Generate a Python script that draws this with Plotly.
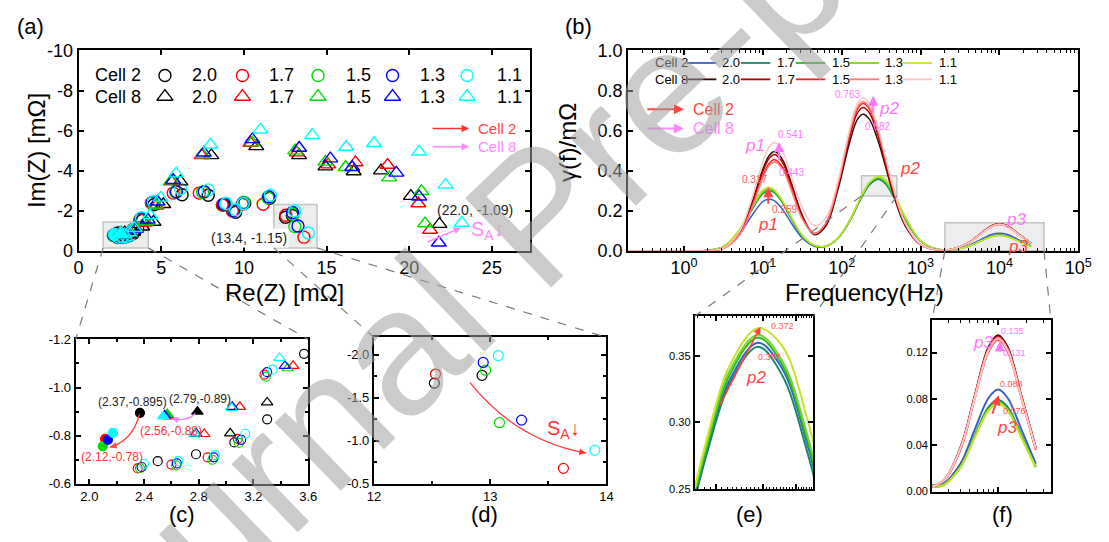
import plotly.graph_objects as go

W, H = 1109, 542
FONT = "Liberation Sans, Arial, sans-serif"


def px(x):
    return x / W


def py(y):
    return 1 - y / H


# ---------------- Nyquist data (Re, Im in mOhm) ----------------
soc_labels = ["2.0", "1.7", "1.5", "1.3", "1.1"]
soc_colors = ["#000000", "#ff0000", "#00dd00", "#0000ff", "#00ffff"]

c2_re_20 = [2.37, 2.50, 2.78, 3.06, 3.30, 3.57, 3.86, 4.55, 6.26, 7.84, 8.75, 9.50, 10.05, 11.55, 12.52, 12.93]
c2_im_20 = [-0.895, -0.694, -0.723, -0.772, -0.868, -1.14, -1.52, -2.30, -2.80, -2.77, -2.28, -1.92, -2.38, -2.62, -1.67, -1.76]
c2_re_17 = [2.115, 2.354, 2.60, 2.865, 3.085, 3.28, 3.70, 4.40, 5.72, 7.30, 8.69, 9.30, 9.90, 11.16, 12.53, 13.63]
c2_im_17 = [-0.787, -0.664, -0.68, -0.71, -0.787, -1.054, -1.55, -2.38, -2.88, -2.88, -2.29, -1.98, -2.32, -2.32, -1.775, -0.68]
c2_re_15 = [2.098, 2.37, 2.635, 2.90, 3.094, 3.29, 3.75, 4.45, 5.85, 7.50, 8.85, 9.40, 10.0, 11.45, 12.96, 13.08]
c2_im_15 = [-0.756, -0.665, -0.677, -0.70, -0.77, -1.045, -1.58, -2.40, -2.95, -2.92, -2.32, -2.0, -2.42, -2.65, -1.82, -1.21]
c2_re_13 = [2.136, 2.382, 2.64, 2.91, 3.11, 3.30, 3.77, 4.47, 5.92, 7.60, 8.80, 9.38, 9.95, 11.50, 12.94, 13.27]
c2_im_13 = [-0.783, -0.67, -0.685, -0.71, -0.783, -1.064, -1.60, -2.42, -2.95, -2.95, -2.33, -2.0, -2.38, -2.70, -1.91, -1.24]
c2_re_11 = [2.172, 2.40, 2.65, 2.917, 3.14, 3.34, 3.80, 4.52, 6.16, 7.84, 8.93, 9.50, 9.96, 11.60, 13.07, 13.90]
c2_im_11 = [-0.812, -0.683, -0.694, -0.719, -0.808, -1.074, -1.65, -2.45, -3.09, -3.04, -2.36, -2.05, -2.36, -2.77, -1.99, -0.89]

c8_re_20 = [2.79, 3.03, 3.30, 3.85, 4.53, 5.12, 6.16, 8.03, 10.75, 13.34, 14.93, 16.64, 18.29, 20.10, 21.83]
c8_im_20 = [-0.90, -0.81, -0.938, -1.20, -1.44, -2.32, -3.45, -4.76, -5.21, -4.76, -4.20, -3.96, -4.00, -2.73, -1.33]
c8_re_17 = [2.58, 2.84, 3.10, 3.49, 4.00, 4.70, 5.60, 7.44, 10.40, 13.20, 15.10, 16.75, 18.69, 20.55, 21.26]
c8_im_17 = [-0.88, -0.807, -0.92, -1.09, -1.40, -2.25, -3.45, -4.76, -5.38, -4.90, -4.30, -4.41, -4.28, -2.36, -1.04]
c8_re_15 = [2.57, 2.77, 3.04, 3.45, 4.05, 4.65, 5.62, 7.50, 10.50, 13.10, 14.93, 16.15, 18.79, 20.74, 20.96]
c8_im_15 = [-0.89, -0.807, -0.918, -1.08, -1.45, -2.30, -3.50, -4.80, -5.40, -5.00, -4.44, -4.17, -3.65, -2.97, -1.36]
c8_re_13 = [2.55, 2.78, 3.045, 3.43, 4.18, 4.77, 5.72, 7.58, 10.51, 13.34, 15.23, 16.55, 19.22, 20.60, 21.79]
c8_im_13 = [-0.885, -0.81, -0.92, -1.09, -1.55, -2.45, -3.52, -4.89, -5.56, -5.13, -4.60, -4.17, -3.89, -2.70, -0.40]
c8_re_11 = [2.54, 2.77, 3.04, 3.39, 4.33, 4.97, 5.90, 7.98, 11.00, 14.13, 16.19, 17.87, 20.60, 22.20, 23.18]
c8_im_11 = [-0.88, -0.81, -0.915, -1.123, -1.76, -2.64, -3.85, -5.29, -6.04, -5.77, -5.18, -5.37, -4.94, -3.29, -1.39]

cell2_re = [c2_re_20, c2_re_17, c2_re_15, c2_re_13, c2_re_11]
cell2_im = [c2_im_20, c2_im_17, c2_im_15, c2_im_13, c2_im_11]
cell8_re = [c8_re_20, c8_re_17, c8_re_15, c8_re_13, c8_re_11]
cell8_im = [c8_im_20, c8_im_17, c8_im_15, c8_im_13, c8_im_11]

# ---------------- DRT data ----------------
freq_hz = [0.19, 1.0, 2.0, 3.16, 5.01, 7.08, 10.0, 12.0, 14.1, 17.8, 22.4, 31.6, 44.7, 63.1, 89.1,
           126, 158, 186, 224, 288, 355, 447, 631, 1000, 1585, 2512, 3981, 5623, 7943, 10000,
           12589, 17783, 25119]

g_c2_20 = [0, 0, 0.002, 0.018, 0.082, 0.170, 0.246, 0.259, 0.249, 0.206, 0.145, 0.064, 0.023, 0.022, 0.061,
           0.148, 0.226, 0.281, 0.331, 0.360, 0.341, 0.281, 0.163, 0.049, 0.009, 0.006, 0.024, 0.053, 0.081, 0.088,
           0.081, 0.053, 0.024]
g_c2_17 = [0, 0, 0.002, 0.020, 0.095, 0.197, 0.285, 0.300, 0.289, 0.238, 0.167, 0.074, 0.026, 0.023, 0.061,
           0.147, 0.225, 0.279, 0.328, 0.357, 0.336, 0.275, 0.158, 0.048, 0.009, 0.005, 0.022, 0.048, 0.073, 0.079,
           0.073, 0.048, 0.022]
g_c2_15 = [0, 0, 0.002, 0.021, 0.096, 0.200, 0.290, 0.305, 0.293, 0.242, 0.170, 0.075, 0.027, 0.023, 0.062,
           0.150, 0.229, 0.284, 0.335, 0.364, 0.344, 0.284, 0.165, 0.049, 0.009, 0.005, 0.021, 0.047, 0.071, 0.077,
           0.071, 0.047, 0.021]
g_c2_13 = [0, 0, 0.002, 0.021, 0.098, 0.203, 0.295, 0.310, 0.298, 0.246, 0.173, 0.076, 0.027, 0.023, 0.062,
           0.151, 0.231, 0.287, 0.338, 0.366, 0.347, 0.288, 0.167, 0.049, 0.009, 0.005, 0.021, 0.047, 0.071, 0.077,
           0.071, 0.047, 0.021]
g_c2_11 = [0, 0, 0.002, 0.022, 0.105, 0.215, 0.305, 0.317, 0.303, 0.250, 0.177, 0.078, 0.028, 0.024, 0.063,
           0.152, 0.233, 0.290, 0.342, 0.371, 0.358, 0.300, 0.175, 0.052, 0.009, 0.005, 0.021, 0.046, 0.070, 0.076,
           0.070, 0.046, 0.021]

g_c8_20 = [0, 0, 0.001, 0.013, 0.085, 0.226, 0.407, 0.474, 0.495, 0.454, 0.350, 0.177, 0.080, 0.125, 0.303,
           0.542, 0.656, 0.682, 0.657, 0.550, 0.428, 0.288, 0.128, 0.029, 0.005, 0.008, 0.038, 0.082, 0.125, 0.135,
           0.125, 0.082, 0.038]
g_c8_17 = [0, 0, 0.001, 0.012, 0.083, 0.219, 0.395, 0.460, 0.480, 0.440, 0.340, 0.172, 0.085, 0.133, 0.317,
           0.568, 0.688, 0.715, 0.689, 0.577, 0.448, 0.302, 0.134, 0.030, 0.005, 0.008, 0.037, 0.081, 0.124, 0.134,
           0.124, 0.081, 0.037]
g_c8_15 = [0, 0, 0.001, 0.012, 0.078, 0.208, 0.374, 0.436, 0.455, 0.417, 0.322, 0.163, 0.086, 0.137, 0.326,
           0.584, 0.707, 0.735, 0.708, 0.593, 0.461, 0.311, 0.138, 0.031, 0.005, 0.008, 0.036, 0.080, 0.121, 0.131,
           0.121, 0.080, 0.036]
g_c8_13 = [0, 0, 0.001, 0.011, 0.076, 0.202, 0.364, 0.424, 0.443, 0.406, 0.314, 0.159, 0.085, 0.139, 0.330,
           0.592, 0.717, 0.745, 0.717, 0.601, 0.467, 0.315, 0.140, 0.031, 0.005, 0.008, 0.037, 0.081, 0.123, 0.133,
           0.123, 0.081, 0.037]
g_c8_11 = [0, 0, 0.001, 0.014, 0.093, 0.247, 0.445, 0.518, 0.541, 0.496, 0.383, 0.215, 0.125, 0.165, 0.345,
           0.606, 0.734, 0.763, 0.735, 0.616, 0.478, 0.323, 0.143, 0.032, 0.005, 0.008, 0.037, 0.080, 0.122, 0.132,
           0.122, 0.080, 0.037]

drt_c2 = [g_c2_20, g_c2_17, g_c2_15, g_c2_13, g_c2_11]
drt_c8 = [g_c8_20, g_c8_17, g_c8_15, g_c8_13, g_c8_11]
drt_c2_colors = ["#3a5fcd", "#17866a", "#22bb22", "#77d42a", "#c6e22c"]
drt_c8_colors = ["#3c0505", "#b00000", "#ff1c1c", "#ff7a7a", "#ffc4c4"]

# ---------------- figure ----------------
fig = go.Figure()

# Nyquist traces in (a), (c), (d)
panels = [("x", "y", 12, 13, 1.4), ("x3", "y3", 9, 10, 1.2), ("x4", "y4", 10, 11, 1.2)]
for xa, ya, cs, ts, lw in panels:
    for i in range(5):
        n = len(cell2_re[i])
        fig.add_trace(go.Scatter(
            x=cell2_re[i], y=cell2_im[i], mode="markers", xaxis=xa, yaxis=ya, showlegend=False,
            marker=dict(symbol=["circle"] + ["circle-open"] * (n - 1), size=cs, color=soc_colors[i],
                        line=dict(width=lw, color=soc_colors[i]))))
    if xa == "x4":
        continue
    for i in range(5):
        n = len(cell8_re[i])
        fig.add_trace(go.Scatter(
            x=cell8_re[i], y=cell8_im[i], mode="markers", xaxis=xa, yaxis=ya, showlegend=False,
            marker=dict(symbol=["triangle-up"] + ["triangle-up-open"] * (n - 1), size=ts,
                        color=soc_colors[i], line=dict(width=lw, color=soc_colors[i]))))


# legend markers for (a) (placed via the axis mapping)
def a_x(p):
    return (p - 73) / 460 * 27.3


def a_y(p):
    return -(250 - p) / 208 * 10


leg_mx = [161, 240, 317, 393, 469]
for i in range(5):
    fig.add_trace(go.Scatter(x=[a_x(leg_mx[i])], y=[a_y(68)], mode="markers", xaxis="x", yaxis="y",
                             showlegend=False,
                             marker=dict(symbol="circle-open", size=12, color=soc_colors[i],
                                         line=dict(width=1.4, color=soc_colors[i]))))
    fig.add_trace(go.Scatter(x=[a_x(leg_mx[i])], y=[a_y(90)], mode="markers", xaxis="x", yaxis="y",
                             showlegend=False,
                             marker=dict(symbol="triangle-up-open", size=14, color=soc_colors[i],
                                         line=dict(width=1.4, color=soc_colors[i]))))

# DRT traces in (b), (e), (f)  -- (e) shows Cell 2 only
for xa, ya, lw, with_c8 in [("x2", "y2", 1.5, True), ("x5", "y5", 2.0, False), ("x6", "y6", 2.0, True)]:
    for i in range(5):
        fig.add_trace(go.Scatter(x=freq_hz, y=drt_c2[i], mode="lines", xaxis=xa, yaxis=ya, showlegend=False,
                                 line=dict(color=drt_c2_colors[i], width=lw, shape="spline", smoothing=1.0)))
    if not with_c8:
        continue
    for i in range(5):
        fig.add_trace(go.Scatter(x=freq_hz, y=drt_c8[i], mode="lines", xaxis=xa, yaxis=ya, showlegend=False,
                                 line=dict(color=drt_c8_colors[i], width=lw, shape="spline", smoothing=1.0)))

base_ax = dict(showline=True, linecolor="black", linewidth=2, mirror="ticks", ticks="inside",
               ticklen=5, tickwidth=1.5, tickcolor="black", showgrid=False, zeroline=False,
               fixedrange=True, tickfont=dict(family=FONT, color="black"))


def ax(**kw):
    d = dict(base_ax)
    d.update(kw)
    return d


dec_minor = [m * 10 ** e for e in range(-1, 5) for m in range(2, 10)]

fig.update_layout(
    width=W, height=H, margin=dict(l=0, r=0, t=0, b=0), autosize=False,
    paper_bgcolor="white", plot_bgcolor="rgba(0,0,0,0)", showlegend=False,
    font=dict(family=FONT, color="black"),
    xaxis=ax(domain=[px(73), px(533)], anchor="y", range=[0, 27.3], tickvals=[0, 5, 10, 15, 20, 25],
             tickfont=dict(family=FONT, size=18)),
    yaxis=ax(domain=[py(250), py(42)], anchor="x", range=[0, -10],
             tickvals=[0, -2, -4, -6, -8, -10], ticktext=["0", "-2", "-4", "-6", "-8", "-10"],
             tickfont=dict(family=FONT, size=18)),
    xaxis2=ax(domain=[px(633), px(1092)], anchor="y2", type="log", range=[-0.71, 5.0],
              tickvals=[1, 10, 100, 1000, 10000, 100000],
              ticktext=["10<sup>0</sup>", "10<sup>1</sup>", "10<sup>2</sup>", "10<sup>3</sup>",
                        "10<sup>4</sup>", "10<sup>5</sup>"],
              tickfont=dict(family=FONT, size=18),
              minor=dict(tickvals=dec_minor, ticks="inside", ticklen=3, tickwidth=1, tickcolor="black")),
    yaxis2=ax(domain=[py(250), py(42)], anchor="x2", range=[0, 1.0],
              tickvals=[0, 0.2, 0.4, 0.6, 0.8, 1.0], ticktext=["0.0", "0.2", "0.4", "0.6", "0.8", "1.0"],
              tickfont=dict(family=FONT, size=18)),
    xaxis3=ax(domain=[px(70), px(307)], anchor="y3", range=[1.9, 3.6], tickvals=[2.0, 2.4, 2.8, 3.2, 3.6],
              ticktext=["2.0", "2.4", "2.8", "3.2", "3.6"], tickfont=dict(family=FONT, size=13),
              minor=dict(tickvals=[2.2, 2.6, 3.0, 3.4], ticks="inside", ticklen=3, tickcolor="black")),
    yaxis3=ax(domain=[py(492), py(342)], anchor="x3", range=[-0.6, -1.2], tickvals=[-0.6, -0.8, -1.0, -1.2],
              ticktext=["-0.6", "-0.8", "-1.0", "-1.2"], tickfont=dict(family=FONT, size=13),
              minor=dict(tickvals=[-0.7, -0.9, -1.1], ticks="inside", ticklen=3, tickcolor="black")),
    xaxis4=ax(domain=[px(374), px(611)], anchor="y4", range=[12, 14], tickvals=[12, 13, 14],
              tickfont=dict(family=FONT, size=13),
              minor=dict(tickvals=[12.5, 13.5], ticks="inside", ticklen=3, tickcolor="black")),
    yaxis4=ax(domain=[py(492), py(340)], anchor="x4", range=[-0.5, -2.2], tickvals=[-0.5, -1.0, -1.5, -2.0],
              ticktext=["-0.5", "-1.0", "-1.5", "-2.0"], tickfont=dict(family=FONT, size=13),
              minor=dict(tickvals=[-0.75, -1.25, -1.75], ticks="inside", ticklen=3, tickcolor="black")),
    xaxis5=ax(domain=[px(701), px(822)], anchor="y5", type="log", range=[2.22, 2.67],
              tickvals=[200, 300, 400], showticklabels=False,
              minor=dict(tickvals=[170, 180, 190, 210, 220, 230, 240, 250, 260, 270, 280, 290, 310, 320, 330,
                                   340, 350, 360, 370, 380, 390, 410, 420, 430, 440, 450, 460],
                         ticks="inside", ticklen=2, tickwidth=1, tickcolor="black")),
    yaxis5=ax(domain=[py(497), py(318)], anchor="x5", range=[0.25, 0.38], tickvals=[0.25, 0.30, 0.35],
              ticktext=["0.25", "0.30", "0.35"], tickfont=dict(family=FONT, size=11)),
    xaxis6=ax(domain=[px(943), px(1064)], anchor="y6", type="log", range=[3.3, 4.56],
              tickvals=[10000], showticklabels=False,
              minor=dict(tickvals=[3000, 4000, 5000, 6000, 7000, 8000, 9000, 20000, 30000],
                         ticks="inside", ticklen=3, tickwidth=1, tickcolor="black")),
    yaxis6=ax(domain=[py(500), py(322)], anchor="x6", range=[0, 0.148], tickvals=[0, 0.04, 0.08, 0.12],
              ticktext=["0.00", "0.04", "0.08", "0.12"], tickfont=dict(family=FONT, size=11)),
)

shapes = []
annos = []


def rect(x0, y0, x1, y1):
    shapes.append(dict(type="rect", xref="paper", yref="paper", x0=px(x0), x1=px(x1), y0=py(y1), y1=py(y0),
                       fillcolor="rgba(215,215,215,0.45)", line=dict(color="#c4c4c4", width=1.5), layer="below"))


def dline(x0, y0, x1, y1, color="#7a7a7a", width=1.2, dash="dash"):
    shapes.append(dict(type="line", xref="paper", yref="paper", x0=px(x0), y0=py(y0), x1=px(x1), y1=py(y1),
                       line=dict(color=color, width=width, dash=dash)))


def text(x, y, s, size, color="black", xanchor="center", yanchor="middle", angle=0, **kw):
    annos.append(dict(x=px(x), y=py(y), xref="paper", yref="paper", text=s, showarrow=False,
                      xanchor=xanchor, yanchor=yanchor, textangle=angle,
                      font=dict(family=FONT, size=size, color=color), **kw))


def arrow(x0, y0, x1, y1, color, width=1.5, head=2, hs=1.0):
    annos.append(dict(x=px(x1), y=py(y1), xref="paper", yref="paper", ax=x0 - x1, ay=y0 - y1,
                      axref="pixel", ayref="pixel", text="", showarrow=True, arrowhead=head,
                      arrowsize=hs, arrowwidth=width, arrowcolor=color))


def curve(p0, c, p2, color, width=1.5):
    path = "M {} {} Q {} {} {} {}".format(px(p0[0]), py(p0[1]), px(c[0]), py(c[1]), px(p2[0]), py(p2[1]))
    shapes.append(dict(type="path", xref="paper", yref="paper", path=path, line=dict(color=color, width=width)))
    dx, dy = p2[0] - c[0], p2[1] - c[1]
    L = (dx * dx + dy * dy) ** 0.5
    arrow(p2[0] - 6 * dx / L, p2[1] - 6 * dy / L, p2[0], p2[1], color, width=width, head=2, hs=1.0)


# zoom boxes
rect(98, 220, 144, 247)
rect(272, 202, 316, 247)
rect(871, 172, 907, 193)
rect(956, 221, 1057, 250)

# dashed connector lines
dline(98, 247, 70, 342)
dline(144, 247, 307, 342)
dline(272, 247, 374, 340)
dline(316, 247, 611, 340)
dline(871, 193, 701, 318)
dline(907, 193, 822, 318)
dline(956, 250, 943, 322)
dline(1057, 250, 1064, 322)

# panel labels
text(24, 17, "(a)", 22)
text(583, 17, "(b)", 22)
text(178, 524, "(c)", 22)
text(487, 524, "(d)", 22)
text(757, 524, "(e)", 22)
text(1015, 524, "(f)", 22)

# axis titles
text(30, 146, "Im(Z) [mΩ]", 24, angle=-90)
text(283, 293, "Re(Z) [mΩ]", 24)
text(572, 138, "γ(f)/mΩ", 24, angle=-90)
text(874, 293, "Frequency(Hz)", 24)

# (a) legend text
text(88, 68, "Cell 2", 18, xanchor="left")
text(88, 90, "Cell 8", 18, xanchor="left")
for xx, lab in zip([187, 265, 343, 419, 497], soc_labels):
    text(xx, 68, lab, 18, xanchor="left")
    text(xx, 90, lab, 18, xanchor="left")

# (a) arrows / labels
arrow(433, 123, 471, 123, "#ff3333", width=1.5)
text(478, 123, "Cell 2", 15, color="#ff4444", xanchor="left")
arrow(433, 142, 471, 142, "#ff88ff", width=1.5)
text(478, 142, "Cell 8", 15, color="#ff88ff", xanchor="left")
text(247, 237, "(13.4, -1.15)", 14, color="#222222", bgcolor="white")
text(477, 208, "(22.0, -1.09)", 14, color="#222222")
arrow(428, 241, 463, 226, "#ff88ff", width=1.5)
text(490, 229, "S<sub>A</sub>↓", 20, color="#ff88ff")

# (b) legend
text(658, 55, "Cell 2", 13, xanchor="left")
text(658, 72, "Cell 8", 13, xanchor="left")
seg_x = [(693, 723), (748, 778), (804, 834), (859, 889), (913, 943)]
lab_x = [727, 783, 839, 893, 948]
for i in range(5):
    shapes.append(dict(type="line", xref="paper", yref="paper", x0=px(seg_x[i][0]), x1=px(seg_x[i][1]),
                       y0=py(55), y1=py(55), line=dict(color=drt_c2_colors[i], width=1.8)))
    shapes.append(dict(type="line", xref="paper", yref="paper", x0=px(seg_x[i][0]), x1=px(seg_x[i][1]),
                       y0=py(72), y1=py(72), line=dict(color=drt_c8_colors[i], width=1.8)))
    text(lab_x[i], 55, soc_labels[i], 13, xanchor="left")
    text(lab_x[i], 72, soc_labels[i], 13, xanchor="left")

arrow(652, 103, 690, 103, "#ff4444", width=2)
text(697, 103, "Cell 2", 16, color="#ff4444", xanchor="left")
arrow(652, 123, 690, 123, "#ff88ff", width=2)
text(697, 123, "Cell 8", 16, color="#ff88ff", xanchor="left")

text(762, 141, "<i>p1</i>", 17, color="#ff77ff")
text(799, 129, "0.541", 10, color="#ff77ff")
text(800, 169, "0.443", 10, color="#ff77ff")
arrow(787, 157, 787, 137, "#ff77ff", width=2)
text(762, 176, "0.317", 10, color="#ff5555")
text(793, 207, "0.259", 10, color="#ff5555")
arrow(776, 202, 776, 184, "#ff4444", width=2)
text(776, 223, "<i>p1</i>", 17, color="#ff4444")
text(857, 88, "0.763", 10, color="#ff77ff")
arrow(883, 108, 883, 89, "#ff77ff", width=2)
text(899, 102, "<i>p2</i>", 17, color="#ff77ff")
text(887, 121, "0.682", 10, color="#ff77ff")
text(920, 165, "<i>p2</i>", 17, color="#ff4444")
text(1028, 218, "<i>p3</i>", 17, color="#ff77ff")
text(1031, 246, "<i>p3</i>", 17, color="#ff4444")

# (c) annotations
text(128, 407, "(2.37,-0.895)", 12, color="#222222")
text(197, 404, "(2.79,-0.89)", 12, color="#222222")
text(167, 437, "(2.56,-0.88)", 12, color="#ff3333")
text(107, 464, "(2.12,-0.78)", 12, color="#ff3333")
curve((135, 420), (128, 447), (105, 454), "#ff4444", width=1.3)
curve((192, 419), (183, 428), (168, 424), "#ff77ff", width=1.3)

# (d) annotations
curve((472, 387), (519, 447), (590, 460), "#ff3333", width=1.3)
text(567, 436, "S<sub>A</sub>↓", 20, color="#ff3333")

# (e) annotations
arrow(727, 408, 768, 329, "#ff4444", width=1.5)
text(790, 328, "0.372", 9, color="#ff5555")
text(777, 360, "0.357", 9, color="#ff5555")
text(763, 382, "<i>p2</i>", 17, color="#ff4444")

# (f) annotations
text(1025, 333, "0.135", 9, color="#ff77ff")
text(995, 345, "<i>p3</i>", 17, color="#ff77ff")
arrow(1012, 356, 1012, 344, "#ff77ff", width=2)
text(1027, 356, "0.131", 9, color="#ff77ff")
text(1024, 388, "0.088", 9, color="#ff5555")
text(1027, 416, "0.076", 9, color="#ff5555")
arrow(1004, 420, 1011, 400, "#ff4444", width=2)
text(1019, 433, "<i>p3</i>", 17, color="#ff4444")

# watermark
text(540, 212, "Journal Pre-proof", 180, color="rgba(160,160,160,0.55)", angle=-44)

fig.update_layout(shapes=shapes, annotations=annos)
fig.write_html("out.html")
